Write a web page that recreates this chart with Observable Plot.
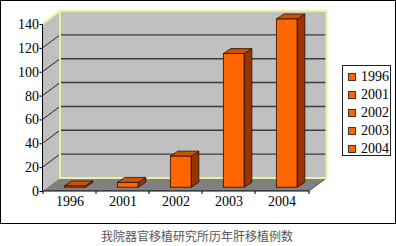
<!DOCTYPE html>
<html>
<head>
<meta charset="utf-8">
<script src="https://cdn.jsdelivr.net/npm/d3@7"></script>
<script src="https://cdn.jsdelivr.net/npm/@observablehq/plot@0.6"></script>
<style>
  html, body { margin: 0; padding: 0; background: #fff; }
  #wrap { position: relative; width: 396px; height: 246px; overflow: hidden; }
  #frame { position: absolute; left: 0; top: 0; width: 394px; height: 222px; border: 1px solid #000; background: #fff; }
  #frame svg { display: block; }
  #legend { position: absolute; left: 342px; top: 65px; width: 47px; height: 89px; border: 1px solid #222; background: #fff;
            font-family: "Liberation Serif", serif; font-size: 14px; color: #000; }
  .li { position: absolute; left: 0; height: 18px; line-height: 18px; white-space: nowrap; }
  .sw { position: absolute; left: 5px; top: 5px; width: 6px; height: 6px; background: #ff6600; border: 1px solid #333; }
  .lt { position: absolute; left: 18px; top: 0; }
  #caption { position: absolute; left: 0; top: 228px; width: 394px; text-align: center;
             font-family: "Noto Sans CJK SC", sans-serif; font-size: 12px; line-height: 16px; color: #555; }
</style>
</head>
<body>
<div id="wrap">
  <div id="frame"></div>
  <div id="legend"></div>
  <div id="caption"></div>
</div>
<script>
// ---- data ----
const years = ["1996", "2001", "2002", "2003", "2004"];
const cases = [1, 4, 26, 112, 141];
const yTicks = [0, 20, 40, 60, 80, 100, 120, 140];
const legendLabels = ["1996", "2001", "2002", "2003", "2004"];
const captionText = "我院器官移植研究所历年肝移植例数";

const data = years.map((year, i) => ({year, n: cases[i]}));

// ---- styling constants ----
const yMax = 140;
const DX = 17.5, DY = -13;          // depth of the 3D box
const barW = 21;                     // front face width
const fdx = 5.2, fdy = -3.8;         // bar front offset into depth
const bdx = 7.5, bdy = -5;           // bar depth
const wallGray = "#c0c0c0", floorGray = "#808080", edgeYellow = "#eeeea0";
const W = 394, H = 222, mL = 41.5, mR = 86, mT = 23, mB = 32;
const bandW = (W - mL - mR) / years.length;

function getArgs(args) {
  // supports (index, scales, values, dimensions, context) and (scales, dimensions)
  if (args[0] && typeof args[0].y === "function") return {scales: args[0], dims: args[1]};
  return {scales: args[1], dims: args[3]};
}
function pts(a) { return a.map(p => p[0] + "," + p[1]).join(" "); }

function walls(...args) {
  const {scales} = getArgs(args);
  const Y = scales.y;
  const x0 = mL, x1 = W - mR;
  const y0 = Y(0), yT = Y(yMax);
  const g = d3.create("svg:g");
  // left wall
  g.append("polygon").attr("points", pts([[x0, y0], [x0, yT], [x0 + DX, yT + DY], [x0 + DX, y0 + DY]])).attr("fill", wallGray);
  // back wall
  g.append("polygon").attr("points", pts([[x0 + DX, yT + DY], [x1 + DX, yT + DY], [x1 + DX, y0 + DY], [x0 + DX, y0 + DY]])).attr("fill", wallGray);
  // gridlines
  for (const v of yTicks) {
    if (v <= 0 || v >= yMax) continue;
    const yy = Y(v);
    g.append("line").attr("x1", x0 + DX).attr("x2", x1 + DX).attr("y1", yy + DY).attr("y2", yy + DY)
      .attr("stroke", "#3a3a3a").attr("stroke-width", 1.4);
    g.append("line").attr("x1", x0).attr("x2", x0 + DX).attr("y1", yy).attr("y2", yy + DY)
      .attr("stroke", "#222").attr("stroke-width", 1);
  }
  // floor
  g.append("polygon").attr("points", pts([[x0, y0], [x1, y0], [x1 + DX, y0 + DY], [x0 + DX, y0 + DY]])).attr("fill", floorGray);
  g.append("line").attr("x1", x1).attr("x2", x1 + DX).attr("y1", y0).attr("y2", y0 + DY).attr("stroke", "#555").attr("stroke-width", 1);
  // yellow edges
  g.append("polyline").attr("points", pts([[x0, yT], [x0 + DX, yT + DY], [x1 + DX, yT + DY], [x1 + DX, y0 + DY], [x0 + DX, y0 + DY], [x0 + DX, yT + DY]]))
    .attr("fill", "none").attr("stroke", edgeYellow).attr("stroke-width", 2).attr("stroke-linejoin", "miter");
  // front axis lines
  g.append("line").attr("x1", x0).attr("x2", x0).attr("y1", y0).attr("y2", yT).attr("stroke", "#000").attr("stroke-width", 1);
  g.append("line").attr("x1", x0).attr("x2", x1).attr("y1", y0).attr("y2", y0).attr("stroke", "#000").attr("stroke-width", 1.2);
  // category boundary ticks
  years.forEach((yr, i) => {
    const xb = scales.x(yr);
    g.append("line").attr("x1", xb).attr("x2", xb).attr("y1", y0).attr("y2", y0 + 3).attr("stroke", "#000");
  });
  g.append("line").attr("x1", x1).attr("x2", x1).attr("y1", y0).attr("y2", y0 + 3).attr("stroke", "#000");
  return g.node();
}

function barSides(...args) {
  const {scales} = getArgs(args);
  const X = scales.x, Y = scales.y;
  const g = d3.create("svg:g");
  data.forEach(d => {
    const cx = X(d.year) + bandW / 2;
    const xl = cx - barW / 2 + fdx, xr = xl + barW;
    const yt = Y(d.n) + fdy, yb = Y(0) + fdy;
    g.append("polygon").attr("points", pts([[xr, yt], [xr + bdx, yt + bdy], [xr + bdx, yb + bdy], [xr, yb]]))
      .attr("fill", "#993300").attr("stroke", "#2a0e00").attr("stroke-width", 0.8);
    g.append("polygon").attr("points", pts([[xl, yt], [xr, yt], [xr + bdx, yt + bdy], [xl + bdx, yt + bdy]]))
      .attr("fill", "#cc5200").attr("stroke", "#2a0e00").attr("stroke-width", 0.8);
  });
  return g.node();
}

const inset = (bandW - barW) / 2;

const chart = Plot.plot({
  width: W, height: H,
  marginLeft: mL, marginRight: mR, marginTop: mT, marginBottom: mB,
  style: {fontFamily: "'Liberation Serif', serif", fontSize: "14px", color: "#000", background: "transparent", overflow: "visible"},
  x: {type: "band", domain: years, padding: 0, label: null},
  y: {domain: [0, yMax], label: null},
  marks: [
    walls,
    barSides,
    Plot.barY(data, {x: "year", y: "n", fill: "#ff6600", stroke: "#2a0e00", strokeWidth: 0.8,
                     insetLeft: inset, insetRight: inset, dx: fdx, dy: fdy}),
    Plot.axisY({ticks: yTicks, tickSize: 3, tickPadding: 1, fontSize: 14, label: null}),
    Plot.axisX({tickSize: 0, tickPadding: 5, fontSize: 14, label: null})
  ]
});
document.getElementById("frame").appendChild(chart);

const leg = d3.select("#legend");
legendLabels.forEach((t, i) => {
  const row = leg.append("div").attr("class", "li").style("top", (2 + i * 18) + "px");
  row.append("div").attr("class", "sw");
  row.append("div").attr("class", "lt").text(t);
});
document.getElementById("caption").textContent = captionText;
</script>
</body>
</html>
